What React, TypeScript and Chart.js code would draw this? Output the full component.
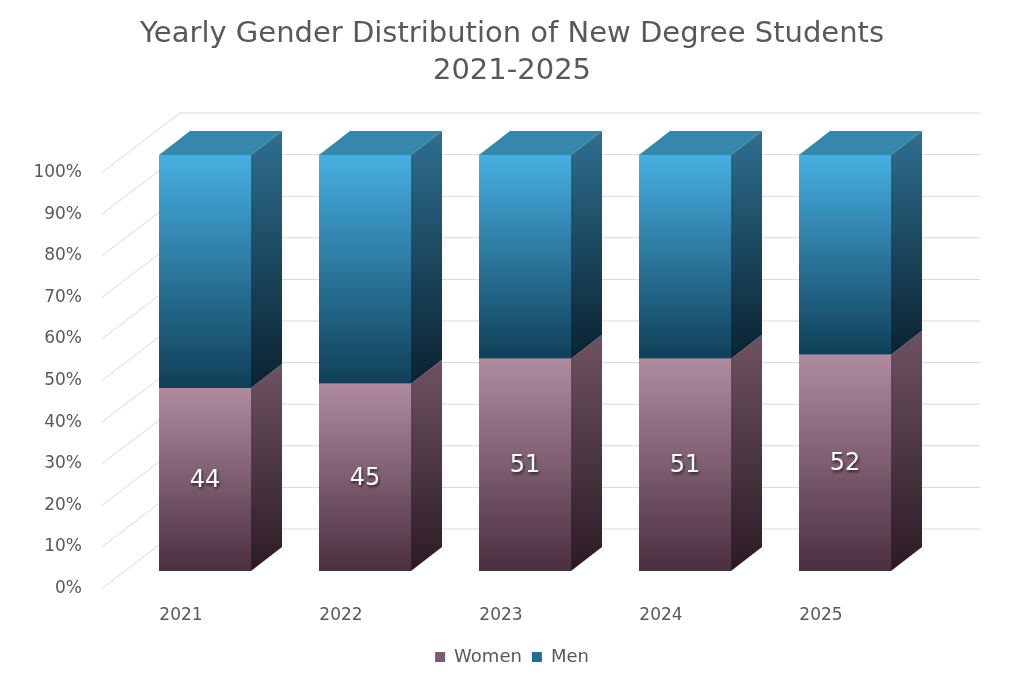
import React, { useEffect, useRef } from "react";
import { Chart, registerables } from "chart.js";

Chart.register(...registerables);

// ---- data ----
const categories = ["2021", "2022", "2023", "2024", "2025"];
const womenValues = [44, 45, 51, 51, 52];
const menValues = [56, 55, 49, 49, 48];
const seriesNames = ["Women", "Men"];
const titleLines = ["Yearly Gender Distribution of New Degree Students", "2021-2025"];

// ---- style ----
const FONT = "'DejaVu Sans', 'Open Sans', sans-serif";
const TEXT = "#595959";
const GRID = "#d9d9d9";
const DEPTH_X = 31;
const DEPTH_Y = -24;
const WALL_FRONT_X = -23;
const WALL_FRONT_Y = 17.5;
const WALL_BACK_X = 55;
const WALL_BACK_Y = -42;

const palette = {
  women: { front: ["#b08ba0", "#4a2f3f"], side: ["#6f5262", "#2b1a24"], legend: "#7d5a6d" },
  men: { front: ["#46b0e2", "#103f58"], side: ["#2e6f90", "#0a2230"], top: "#3787ad", legend: "#1f6f98" },
};

function segmentRange(series: number, i: number): [number, number] {
  return series === 0 ? [0, womenValues[i]] : [womenValues[i], womenValues[i] + menValues[i]];
}

function frontFill(series: number) {
  return (ctx: any) => {
    const chart = ctx.chart;
    const y = chart.scales && chart.scales.y;
    const cols = series === 0 ? palette.women.front : palette.men.front;
    if (!y || !chart.chartArea || ctx.dataIndex === undefined) return cols[0];
    const [s, e] = segmentRange(series, ctx.dataIndex);
    const g = chart.ctx.createLinearGradient(0, y.getPixelForValue(e), 0, y.getPixelForValue(s));
    g.addColorStop(0, cols[0]);
    g.addColorStop(1, cols[1]);
    return g;
  };
}

const depthPlugin = {
  id: "depth3d",
  beforeDatasetsDraw(chart: any) {
    const { ctx, chartArea, scales } = chart;
    const y = scales.y;
    ctx.save();
    ctx.strokeStyle = GRID;
    ctx.lineWidth = 1;
    y.ticks.forEach((t: any) => {
      const py = y.getPixelForValue(t.value);
      ctx.beginPath();
      ctx.moveTo(chartArea.left + WALL_FRONT_X, py + WALL_FRONT_Y);
      ctx.lineTo(chartArea.left + WALL_BACK_X, py + WALL_BACK_Y);
      ctx.lineTo(chartArea.right + WALL_BACK_X, py + WALL_BACK_Y);
      ctx.stroke();
    });
    ctx.restore();
  },
  afterDatasetsDraw(chart: any) {
    const { ctx } = chart;
    const nSets = chart.data.datasets.length;
    ctx.save();
    for (let d = 0; d < nSets; d++) {
      const meta = chart.getDatasetMeta(d);
      const cols = d === 0 ? palette.women : palette.men;
      meta.data.forEach((bar: any) => {
        const { x, y, base, width } = bar.getProps(["x", "y", "base", "width"], true);
        const L = x - width / 2;
        const R = x + width / 2;
        const top = Math.min(y, base);
        const bottom = Math.max(y, base);
        const g = ctx.createLinearGradient(0, top + DEPTH_Y, 0, bottom);
        g.addColorStop(0, cols.side[0]);
        g.addColorStop(1, cols.side[1]);
        ctx.fillStyle = g;
        ctx.beginPath();
        ctx.moveTo(R, top);
        ctx.lineTo(R + DEPTH_X, top + DEPTH_Y);
        ctx.lineTo(R + DEPTH_X, bottom + DEPTH_Y);
        ctx.lineTo(R, bottom);
        ctx.closePath();
        ctx.fill();
        if (d === nSets - 1) {
          ctx.fillStyle = palette.men.top;
          ctx.beginPath();
          ctx.moveTo(L, top);
          ctx.lineTo(L + DEPTH_X, top + DEPTH_Y);
          ctx.lineTo(R + DEPTH_X, top + DEPTH_Y);
          ctx.lineTo(R, top);
          ctx.closePath();
          ctx.fill();
        }
      });
    }
    const meta0 = chart.getDatasetMeta(0);
    ctx.font = `24px ${FONT}`;
    ctx.textAlign = "center";
    ctx.textBaseline = "middle";
    ctx.fillStyle = "#ffffff";
    ctx.shadowColor = "rgba(0,0,0,0.65)";
    ctx.shadowBlur = 3;
    ctx.shadowOffsetX = 1;
    ctx.shadowOffsetY = 2;
    meta0.data.forEach((bar: any, i: number) => {
      const { x, y, base } = bar.getProps(["x", "y", "base"], true);
      ctx.fillText(String(womenValues[i]), x, (y + base) / 2 + 1);
    });
    ctx.restore();
  },
};

const bgPlugin = {
  id: "bgWhite",
  beforeDraw(chart: any) {
    const { ctx, width, height } = chart;
    ctx.save();
    ctx.fillStyle = "#ffffff";
    ctx.fillRect(0, 0, width, height);
    ctx.restore();
  },
};

export default function App() {
  const ref = useRef<HTMLCanvasElement>(null);
  useEffect(() => {
    if (!ref.current) return;
    const chart = new Chart(ref.current, {
      type: "bar",
      data: {
        labels: categories,
        datasets: [
          {
            label: seriesNames[0],
            data: womenValues,
            backgroundColor: frontFill(0),
            borderWidth: 0,
            barPercentage: 0.575,
            categoryPercentage: 1,
          },
          {
            label: seriesNames[1],
            data: menValues,
            backgroundColor: frontFill(1),
            borderWidth: 0,
            barPercentage: 0.575,
            categoryPercentage: 1,
          },
        ],
      },
      options: {
        animation: false,
        responsive: true,
        maintainAspectRatio: false,
        layout: { padding: { left: 0, right: 0, top: 0, bottom: 6 } },
        scales: {
          x: {
            stacked: true,
            grid: { display: false, drawTicks: false },
            border: { display: false },
            ticks: {
              color: TEXT,
              font: { family: FONT, size: 17 },
              padding: 34,
              labelOffset: -24,
              maxRotation: 0,
            },
            afterFit: (scale: any) => {
              const legendH = scale.chart.legend ? scale.chart.legend.height : 0;
              scale.height = scale.chart.height - 6 - legendH - 571;
            },
          },
          y: {
            stacked: true,
            min: 0,
            max: 100,
            grid: { display: false, drawTicks: false },
            border: { display: false },
            ticks: {
              stepSize: 10,
              color: TEXT,
              font: { family: FONT, size: 17 },
              padding: 43,
              labelOffset: 17.5,
              callback: (v: any) => `${v}%`,
            },
            afterFit: (scale: any) => {
              scale.width = 125;
            },
          },
          yRightSpace: {
            type: "linear",
            position: "right",
            min: 0,
            max: 100,
            grid: { display: false, drawTicks: false },
            border: { display: false },
            ticks: { display: false },
            afterFit: (scale: any) => {
              scale.width = 99;
            },
          },
        },
        plugins: {
          title: {
            display: true,
            text: titleLines,
            color: TEXT,
            font: { family: FONT, size: 29, weight: "normal", lineHeight: 1.28 },
            padding: { top: 16, bottom: 64.8 },
          },
          legend: {
            position: "bottom",
            labels: {
              color: TEXT,
              font: { family: FONT, size: 18 },
              boxWidth: 10,
              boxHeight: 10,
              padding: 10,
              generateLabels: () =>
                seriesNames.map((n, i) => ({
                  text: n,
                  fillStyle: i === 0 ? palette.women.legend : palette.men.legend,
                  strokeStyle: i === 0 ? palette.women.legend : palette.men.legend,
                  lineWidth: 0,
                  datasetIndex: i,
                  fontColor: TEXT,
                })),
            },
          },
          tooltip: { enabled: false },
        },
      },
      plugins: [bgPlugin, depthPlugin],
    });
    return () => chart.destroy();
  }, []);
  return (
    <div style={{ position: "fixed", left: 0, top: 0, width: 1024, height: 682, background: "#fff" }}>
      <canvas ref={ref} />
    </div>
  );
}
